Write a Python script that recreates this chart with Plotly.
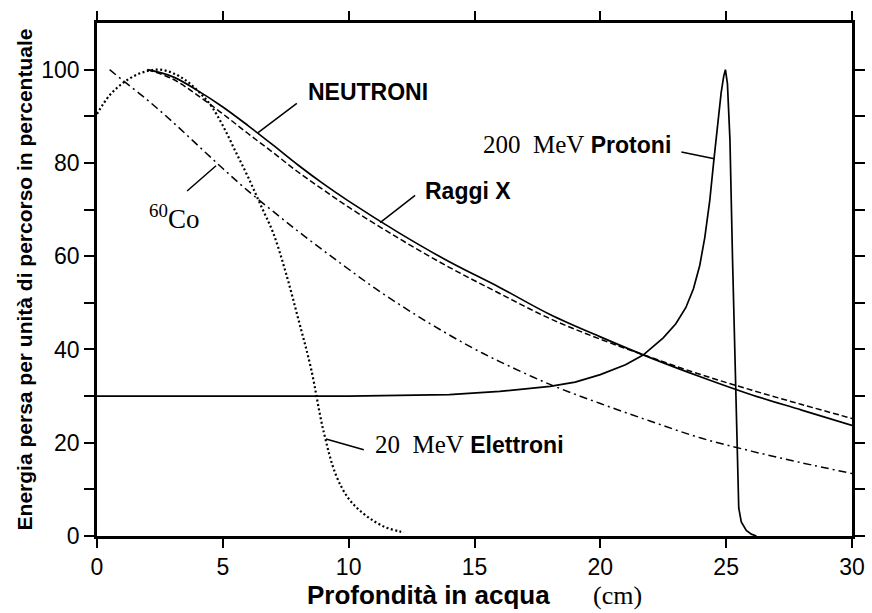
import plotly.graph_objects as go

# Depth in water (cm) and relative energy loss (%) for each radiation type
neutron_x = [2, 3, 4, 5, 6, 7, 8, 9, 10, 12, 14, 16, 18, 20, 22, 24, 26, 28, 30]
neutron_y = [100, 98.5, 95.5, 92, 88, 83.8, 79.5, 75.5, 71.8, 65, 58.8, 53.3, 47.5, 42.7, 38.2, 34.1, 30.3, 27, 23.7]

xray_x = [2, 3, 4, 5, 6, 7, 8, 9, 10, 12, 14, 16, 18, 20, 22, 24, 26, 28, 30]
xray_y = [100, 98, 94.5, 90.5, 86.3, 82.2, 78, 74.2, 70.5, 63.8, 57.6, 52, 46.6, 42.2, 38.3, 34.6, 31.3, 28.2, 25.2]

co60_x = [0.5, 1, 2, 3, 4, 5, 6, 7, 8, 9, 10, 11, 12, 13, 14, 15, 16, 18, 20, 22, 24, 26, 28, 30]
co60_y = [100, 97.8, 93.5, 88.8, 83.8, 78.8, 74, 69.6, 65.3, 61.2, 57.2, 53.3, 49.7, 46.3, 43.1, 40.1, 37.4, 32.5, 28.4, 24.6, 21, 18.2, 15.7, 13.4]

electron_x = [0, 0.5, 1, 1.5, 2, 2.5, 3, 3.5, 4, 4.5, 5, 5.5, 6, 6.5, 7, 7.5, 8, 8.5, 9, 9.5, 10, 10.5, 11, 11.5, 12, 12.2]
electron_y = [90.5, 94.5, 97, 98.7, 99.7, 100, 99.3, 97.8, 95.5, 92.5, 88, 82.5, 77, 71, 65, 56.5, 46.5, 36, 22.5, 13, 8, 5.2, 3.2, 1.8, 1, 0.8]

proton_x = [0, 5, 10, 14, 16, 18, 19, 20, 21, 21.7, 22.5, 23, 23.4, 23.7, 23.95, 24.15, 24.35, 24.5, 24.65, 24.8, 24.9, 24.97,
            25.05, 25.15, 25.25, 25.35, 25.45, 25.5, 25.6, 25.8, 26.0, 26.2]
proton_y = [30, 30, 30, 30.3, 31, 32.1, 33, 34.6, 36.7, 38.8, 42.5, 45.5, 49, 53, 58, 64, 72, 80, 88, 95, 98.5, 100,
            97, 85, 60, 38, 18, 6, 3, 1.2, 0.4, 0]

y_ticks = [0, 10, 20, 30, 40, 50, 60, 70, 80, 90, 100]
y_ticklabels = ["0", "", "20", "", "40", "", "60", "", "80", "", "100"]
x_ticks = [0, 5, 10, 15, 20, 25, 30]

SANS = "Liberation Sans, Arial, sans-serif"
SERIF = "Liberation Serif, Times New Roman, serif"
TICKFONT = "Liberation Sans, Arial, sans-serif"


def serif(text, size=25):
    return f'<span style="font-family:{SERIF};font-weight:normal;font-size:{size}px">{text}</span>'


fig = go.Figure()
fig.add_trace(go.Scatter(x=neutron_x, y=neutron_y, mode="lines", name="Neutroni",
                         line=dict(color="black", width=1.7, shape="spline")))
fig.add_trace(go.Scatter(x=xray_x, y=xray_y, mode="lines", name="Raggi X",
                         line=dict(color="black", width=1.5, dash="6px,3px", shape="spline")))
fig.add_trace(go.Scatter(x=co60_x, y=co60_y, mode="lines", name="60Co",
                         line=dict(color="black", width=1.5, dash="8px,4px,2px,4px", shape="spline")))
fig.add_trace(go.Scatter(x=electron_x, y=electron_y, mode="lines", name="Elettroni",
                         line=dict(color="black", width=2.2, dash="2px,2.5px", shape="spline")))
fig.add_trace(go.Scatter(x=proton_x, y=proton_y, mode="lines", name="Protoni",
                         line=dict(color="black", width=1.7)))


# Curve labels with leader lines
def label(text, x, y, ax, ay, tx, ty, xanchor="left", font=SANS, size=23, bold=True):
    fig.add_annotation(x=x, y=y, ax=ax, ay=ay, xref="x", yref="y", axref="x", ayref="y",
                       showarrow=True, arrowhead=0, arrowwidth=1.5, arrowcolor="black", text="")
    fig.add_annotation(x=tx, y=ty, xref="x", yref="y", text=text, showarrow=False,
                       xanchor=xanchor, yanchor="middle",
                       font=dict(family=font, size=size, color="black", weight="bold" if bold else "normal"))


label("NEUTRONI", 6.4, 86.5, 8.0, 93.0, 8.3, 95.3)
label("Raggi X", 11.25, 67.2, 12.7, 73.3, 12.95, 74.0)
label(serif("200&#160;&#160;MeV") + " Protoni", 24.53, 80.9, 23.16, 82.4, 22.9, 84.0, xanchor="right")
label("<sup>60</sup>Co", 4.73, 79.4, 3.52, 73.7, 2.0, 68.5, font=SERIF, size=27, bold=False)
label(serif("20&#160;&#160;MeV") + " Elettroni", 9.1, 20.8, 10.66, 18.4, 10.95, 19.6)

fig.update_layout(
    width=872, height=613,
    margin=dict(l=97, r=7, t=23, b=77),
    paper_bgcolor="white", plot_bgcolor="white",
    showlegend=False,
    xaxis=dict(
        range=[0, 30], tickvals=x_ticks, ticks="outside", ticklen=9, tickwidth=2, tickcolor="black",
        showline=True, linewidth=2.5, linecolor="black", mirror="ticks", showgrid=False, zeroline=False,
        tickfont=dict(family=TICKFONT, size=23, color="black"),
        title=dict(text="Profondità in acqua&#160;&#160;&#160;&#160;&#160;&#160;" + serif("(cm)", 26),
                   font=dict(family=SANS, size=26, color="black", weight="bold"), standoff=4),
    ),
    yaxis=dict(
        range=[0, 110], tickvals=y_ticks, ticktext=y_ticklabels, ticks="outside", ticklen=10, tickwidth=1.8,
        tickcolor="black", showline=True, linewidth=2.5, linecolor="black", mirror="ticks",
        showgrid=False, zeroline=False,
        tickfont=dict(family=TICKFONT, size=23, color="black"),
        title=dict(text="Energia persa per unità di percorso in percentuale",
                   font=dict(family=SANS, size=21, color="black", weight="bold"), standoff=3),
    ),
)

fig.write_html("out.html")
